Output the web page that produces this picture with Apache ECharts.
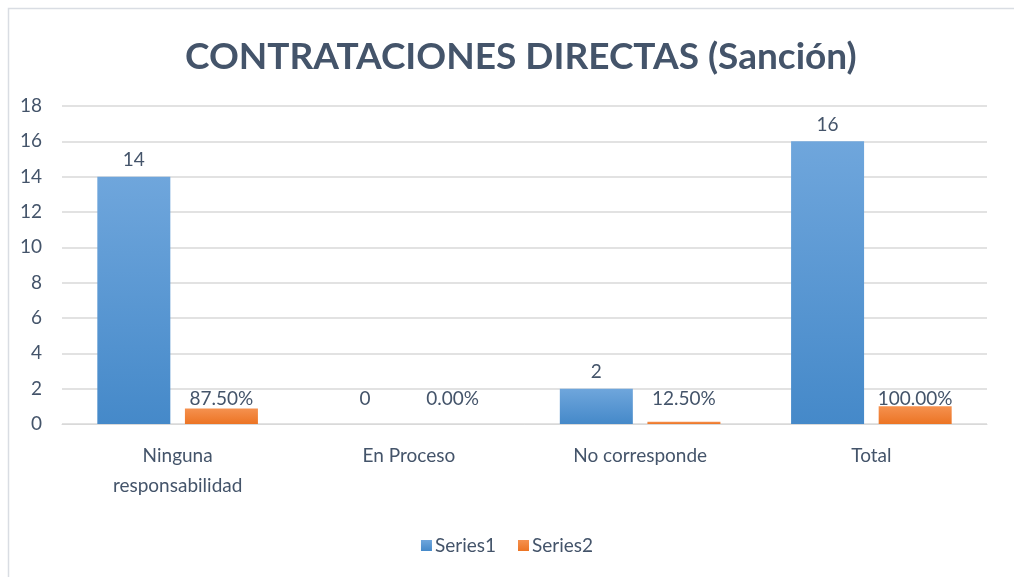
<!DOCTYPE html>
<html>
<head>
<meta charset="utf-8">
<script src="https://cdn.jsdelivr.net/npm/echarts@6/dist/echarts.min.js"></script>
<style>html,body{margin:0;padding:0;background:#fff;}#c{width:1014px;height:577px;}</style>
</head>
<body>
<div id="c"></div>
<script>
const categories = ['Ninguna\nresponsabilidad', 'En Proceso', 'No corresponde', 'Total'];
const series1 = [14, 0, 2, 16];
const series2 = [0.875, 0, 0.125, 1];
const seriesNames = ['Series1', 'Series2'];
const titleText = 'CONTRATACIONES DIRECTAS (Sanción)';

const txt = '#44546A';
const font = 'Lato';
const fs = 19;
const lowLabel = { position: 'insideBottom', distance: 16 };
const chart = echarts.init(document.getElementById('c'));
chart.setOption({
  animation: false,
  backgroundColor: '#fff',
  title: {
    text: titleText, left: 180, top: 34,
    textStyle: { color: txt, fontSize: 37, fontWeight: 'bold', fontFamily: font }
  },
  graphic: [{
    type: 'rect', shape: { x: 8.5, y: 8.5, width: 1020, height: 600 },
    style: { fill: 'none', stroke: '#d9dde3', lineWidth: 1.5 }, silent: true
  }],
  legend: {
    data: seriesNames, bottom: 17, left: 'center', itemWidth: 11, itemHeight: 11, itemGap: 22,
    icon: 'rect',
    textStyle: { color: txt, fontSize: fs, fontFamily: font, padding: [0, 0, 0, -2] }
  },
  grid: { left: 62, right: 27, top: 106, bottom: 153, containLabel: false },
  xAxis: {
    type: 'category', data: categories,
    axisLine: { lineStyle: { color: '#d9d9d9' } }, axisTick: { show: false },
    axisLabel: { color: txt, fontSize: fs, fontFamily: font, lineHeight: 30, margin: 17 }
  },
  yAxis: {
    type: 'value', min: 0, max: 18, interval: 2,
    axisLine: { show: false }, axisTick: { show: false },
    splitLine: { lineStyle: { color: '#d9d9d9', width: 1.5 } },
    axisLabel: { color: txt, fontSize: fs, fontFamily: font, margin: 20, align: 'right' }
  },
  series: [{
    name: seriesNames[0], type: 'bar', barWidth: 73, barGap: '20%',
    data: series1.map(v => v === 0 ? { value: v, label: lowLabel } : v),
    itemStyle: { color: new echarts.graphic.LinearGradient(0, 0, 0, 1, [
      { offset: 0, color: '#6fa6dc' }, { offset: 1, color: '#4589c9' }]) },
    label: { show: true, position: 'top', color: txt, fontSize: fs, fontFamily: font, distance: 7 }
  }, {
    name: seriesNames[1], type: 'bar', data: series2, barWidth: 73,
    itemStyle: { color: new echarts.graphic.LinearGradient(0, 0, 0, 1, [
      { offset: 0, color: '#f5914f' }, { offset: 1, color: '#ec7424' }]) },
    label: { show: true, position: 'insideBottom', distance: 16, color: txt, fontSize: fs, fontFamily: font,
      formatter: p => (p.value * 100).toFixed(2) + '%' }
  }]
});
</script>
</body>
</html>
